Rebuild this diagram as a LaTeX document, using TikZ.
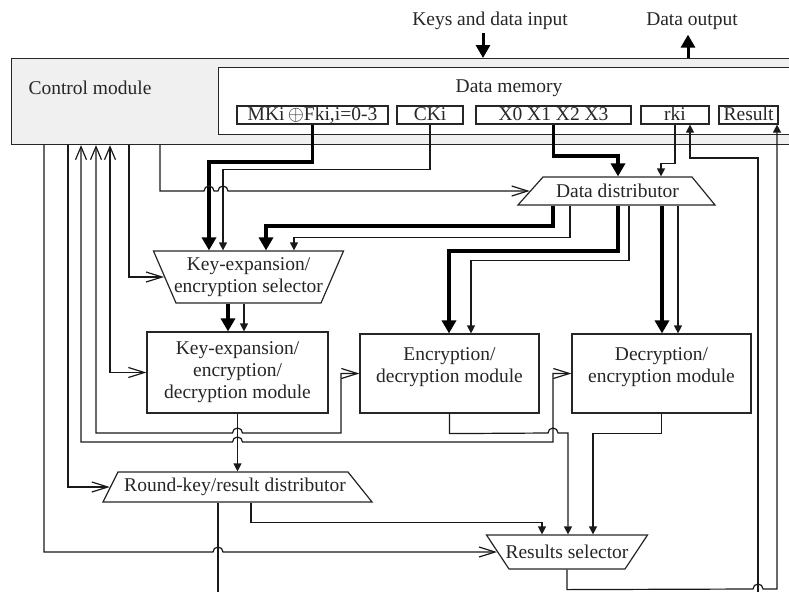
\documentclass[tikz,border=0pt]{standalone}
\usepackage{fontspec}
\setmainfont{Liberation Serif}
\usetikzlibrary{arrows.meta, shapes.geometric}

\begin{document}
\begin{tikzpicture}[
    x=1pt, y=-1pt,
    every node/.style={font=\fontsize{19.5}{22}\selectfont, text=black!85},
    panel/.style={draw=black!85, line width=1.2pt, rectangle, anchor=north west, inner sep=0pt},
    regbox/.style={draw=black!85, line width=1.2pt, fill=white, inner xsep=0pt, inner ysep=1pt,
                   text height=13pt, text depth=3pt},
    module/.style={draw=black!85, line width=1.2pt, fill=white, inner sep=0pt, align=center},
    trap/.style={draw=black!85, line width=1.2pt, fill=white, trapezium,
                 minimum width=0pt, minimum height=0pt},
    txt/.style={align=center, inner sep=0pt},
    wire/.style={draw=black!90, line width=1.2pt},
    wirearr/.style={wire, -{Triangle[length=8pt,width=8pt]}},
    busarr/.style={draw=black, line width=3.8pt, -{Triangle[length=13pt,width=14pt]}},
    ctlarr/.style={wire, -{Straight Barb[length=16pt,width=10pt]}},
    ctlboth/.style={wire, {Straight Barb[length=13pt,width=11pt]}-{Straight Barb[length=16pt,width=10pt]}},
  ]
  \useasboundingbox (0,0) rectangle (789,592);
  \clip (0,0) rectangle (789,592);

  % control module with the data memory inside
  \node[panel, fill=black!6, minimum width=800pt, minimum height=86pt] (ctrl) at (11,58) {};
  \node[txt] (ctrltxt) at (90,88) {Control module};
  \node[panel, fill=white, minimum width=600pt, minimum height=67pt] (mem) at (218,67) {};
  \node[txt] (memtxt) at (509,88) {Data memory};

  \node[regbox, minimum width=151pt] (mk)     at (312.5,115) {MKi\,$\oplus$Fki,i=0-3};
  \node[regbox, minimum width=66pt]  (cki)    at (430,115)   {CKi};
  \node[regbox, minimum width=155pt] (xs)     at (553.5,115) {X0 X1 X2 X3};
  \node[regbox, minimum width=68pt]  (rki)    at (675,115)   {rki};
  \node[regbox, minimum width=59pt]  (result) at (748.5,115) {Result};

  \node[txt] (keys) at (490,21) {Keys and data input};
  \node[txt] (dout) at (692,21) {Data output};

  % selectors and distributors (inner sep = half of the short side / half height)
  \node[trap, inner xsep=74.5pt, inner ysep=14pt,
        trapezium left angle=48.2, trapezium right angle=50.6] (dd) at (617.5,191) {};
  \node[txt] (ddtxt) at (dd) {Data distributor};
  \node[trap, shape border rotate=180, inner xsep=72.5pt, inner ysep=26pt,
        trapezium angle=66.6] (kes) at (248.5,277) {};
  \node[txt] (kestxt) at (kes) {Key-expansion/\\encryption selector};
  \node[trap, inner xsep=115pt, inner ysep=15pt,
        trapezium left angle=63.4, trapezium right angle=51.3] (rkrd) at (233,487) {};
  \node[txt] (rkrdtxt) at (235,487) {Round-key/result distributor};
  \node[trap, shape border rotate=180, inner xsep=58pt, inner ysep=17pt,
        trapezium angle=56.5] (rs) at (567,552) {};
  \node[txt] (rstxt) at (rs) {Results selector};

  % processing modules
  \node[module, minimum width=181pt, minimum height=81pt] (kedm) at (237.5,372.5)
    {Key-expansion/\\encryption/\\decryption module};
  \node[module, minimum width=179pt, minimum height=79pt] (enc) at (449.5,373.5)
    {Encryption/\\decryption module\\[-6pt]\mbox{}};
  \node[module, minimum width=179pt, minimum height=79pt] (dec) at (661.5,373.5)
    {Decryption/\\encryption module\\[-6pt]\mbox{}};

  \coordinate (rkout) at (218,592);
  \coordinate (rkin)  at (758,592);

  % external data
  \draw[busarr, line width=3pt, shorten <=3pt] (keys.south -| 483,0) -- (ctrl.north -| 483,0);
  \draw[busarr, line width=3pt, shorten >=5pt] (ctrl.north -| 688,0) -- (dout.south -| 688,0);

  % memory -> distributors
  \draw[busarr]  (mk.south) -- ++(0,37) -| (kes.north -| 209,0);
  \draw[wirearr] (cki.south) -- ++(0,45) -| (kes.north -| 223,0);
  \draw[busarr]  (xs.south) -- ++(0,31) -| (dd.north -| 618,0);
  \draw[wirearr] (rki.south) -- ++(0,39) -| (dd.north -| 661,0);

  \draw[busarr]  (dd.south -| 553,0) -- ++(0,20) -| (kes.north -| 266,0);
  \draw[wirearr] (dd.south -| 570,0) -- ++(0,32) -| (kes.north -| 294,0);
  \draw[busarr]  (dd.south -| 618,0) -- ++(0,45) -| (enc.north -| 449,0);
  \draw[wirearr] (dd.south -| 629,0) -- ++(0,55) -| (enc.north -| 471,0);
  \draw[busarr]  (dd.south -| 662,0) -- (dec.north -| 662,0);
  \draw[wirearr] (dd.south -| 678,0) -- (dec.north -| 678,0);

  \draw[busarr]  (kes.south -| 228,0) -- (kedm.north -| 228,0);
  \draw[wirearr] (kes.south -| 244,0) -- (kedm.north -| 244,0);

  % control lines
  \draw[ctlarr] (ctrl.south -| 160,0) -- (160,191) -- (204,191)
    arc[start angle=180, end angle=0, radius=5pt] -- (218,191)
    arc[start angle=180, end angle=0, radius=5pt] -- (dd.left side);
  \draw[ctlarr]  (ctrl.south -| 129,0) |- (kes.180);
  \draw[ctlboth] (ctrl.south -| 110,0) |- (kedm.west);
  \draw[ctlboth] (ctrl.south -| 96,0) -- (96,433) -- (232.5,433)
    arc[start angle=180, end angle=0, radius=5pt] -- (341,433) |- (enc.west);
  \draw[ctlboth] (ctrl.south -| 81,0) -- (81,442) -- (232.5,442)
    arc[start angle=180, end angle=0, radius=5pt] -- (553,442) |- (dec.west);
  \draw[ctlarr]  (ctrl.south -| 68,0) |- (rkrd.left side);
  \draw[ctlarr]  (ctrl.south -| 44,0) -- (44,552) -- (213,552)
    arc[start angle=180, end angle=0, radius=5pt] -- (rs.180);

  % results
  \draw[wirearr] (kedm.south) -- (rkrd.north -| kedm.south);
  \draw[wirearr] (enc.south) -- ++(0,20) -- (548,433)
    arc[start angle=180, end angle=0, radius=5pt] -- (568,433) -- (rs.north -| 568,0);
  \draw[wirearr] (dec.south) -- ++(0,20) -| (rs.north -| 593,0);
  \draw[wirearr] (rkrd.south -| 251,0) -- ++(0,20) -| (rs.north -| 542,0);
  \draw[wire]    (rkrd.south -| 218,0) -- (rkout);
  \draw[wirearr] (rs.south) -- ++(0,20) -- (753,589)
    arc[start angle=180, end angle=0, radius=5pt] -- (777,589) -- (result.south -| 777,0);
  \draw[wirearr] (rkin) -- (758,158) -| (rki.south -| 690,0);
\end{tikzpicture}
\end{document}
